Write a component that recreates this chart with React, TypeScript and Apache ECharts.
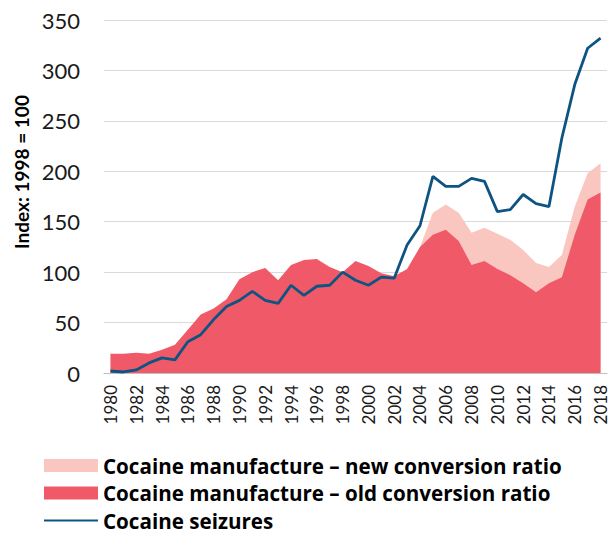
import React, { useEffect, useRef } from "react";
import * as echarts from "echarts";

const years: string[] = [];
for (let y = 1980; y <= 2018; y++) years.push(String(y));

const oldRatio = [19, 19, 20, 19, 23, 28, 43, 58, 64, 73, 93, 100, 104, 92, 107, 112, 113, 105, 100, 111, 106, 99, 96, 103, 125, 137, 142, 131, 107, 111, 103, 97, 89, 80, 89, 95, 137, 172, 179];
const newRatio = [null, null, null, null, null, null, null, null, null, null, null, null, null, null, null, null, null, null, null, null, null, null, null, null, 125, 159, 167, 159, 139, 144, 138, 132, 122, 109, 105, 117, 165, 198, 208];
const seizures = [2, 1, 3, 10, 15, 13, 31, 38, 53, 66, 72, 81, 72, 69, 87, 77, 86, 87, 100, 92, 87, 95, 94, 127, 146, 195, 185, 185, 193, 190, 160, 162, 177, 168, 165, 233, 286, 322, 332];

const seriesNames = [
  "Cocaine manufacture – new conversion ratio",
  "Cocaine manufacture – old conversion ratio",
  "Cocaine seizures",
];
const yAxisTitle = "Index: 1998 = 100";

const PINK = "#F9C6C0";
const RED = "#F05967";
const NAVY = "#0E5482";
const FONT = "Lato";

export default function App() {
  const ref = useRef<HTMLDivElement>(null);
  useEffect(() => {
    if (!ref.current) return;
    const chart = echarts.init(ref.current, null, { renderer: "svg" });
    chart.setOption({
      animation: false,
      textStyle: { fontFamily: FONT },
      grid: { left: 104, right: 9, top: 20, bottom: 160 },
      graphic: [
        {
          type: "text",
          x: 21,
          y: 172,
          rotation: Math.PI / 2,
          style: {
            text: yAxisTitle,
            font: `bold 19px ${FONT}`,
            fill: "#000",
            align: "center",
            verticalAlign: "middle",
          },
        },
      ],
      legend: {
        orient: "vertical",
        left: 43,
        top: 455,
        height: 78,
        padding: 0,
        itemWidth: 54,
        itemHeight: 13,
        itemGap: 6.5,
        textStyle: { fontFamily: "Open Sans", fontWeight: "bold", fontSize: 20.6, color: "#000", lineHeight: 21 },
        data: [
          { name: seriesNames[0], icon: "rect" },
          { name: seriesNames[1], icon: "rect" },
          { name: seriesNames[2], itemStyle: { color: "transparent", borderColor: "transparent", opacity: 0 } },
        ],
      },
      xAxis: {
        type: "category",
        data: years,
        boundaryGap: true,
        axisLine: { lineStyle: { color: "#BFBFBF" } },
        axisTick: { interval: 0, length: 5, lineStyle: { color: "#BFBFBF" } },
        axisLabel: { interval: 1, rotate: 90, fontSize: 17, color: "#1a1a1a", margin: 12, fontFamily: FONT },
      },
      yAxis: {
        type: "value",
        min: 0,
        max: 350,
        interval: 50,
        axisLine: { show: false },
        axisTick: { show: false },
        splitLine: { lineStyle: { color: "#D9D9D9", width: 1 } },
        axisLabel: { fontSize: 22, color: "#1a1a1a", margin: 24, fontFamily: FONT },
      },
      series: [
        {
          name: seriesNames[0],
          type: "line",
          data: newRatio,
          symbol: "none",
          lineStyle: { width: 0, color: PINK },
          itemStyle: { color: PINK },
          areaStyle: { color: PINK, opacity: 1 },
          z: 1,
        },
        {
          name: seriesNames[1],
          type: "line",
          data: oldRatio,
          symbol: "none",
          lineStyle: { width: 0, color: RED },
          itemStyle: { color: RED },
          areaStyle: { color: RED, opacity: 1 },
          z: 2,
        },
        {
          name: seriesNames[2],
          type: "line",
          data: seizures,
          symbol: "none",
          lineStyle: { width: 2.8, color: NAVY },
          itemStyle: { color: NAVY },
          z: 3,
        },
      ],
    });
    return () => chart.dispose();
  }, []);
  return <div ref={ref} style={{ width: 616, height: 533, position: "absolute", left: 0, top: 0 }} />;
}
